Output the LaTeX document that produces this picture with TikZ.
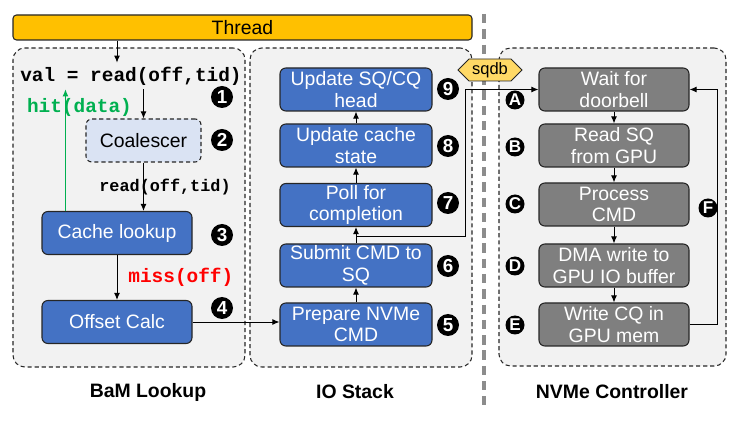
\documentclass[tikz,border=0pt]{standalone}
\usepackage{fontspec}
\setmainfont{Liberation Sans}
\setmonofont{Liberation Mono}
\usetikzlibrary{shapes.geometric, shapes.symbols, arrows.meta, positioning, calc}
\definecolor{threadcolor}{RGB}{255, 192, 0}
\definecolor{panelcolor}{RGB}{242, 242, 242}
\definecolor{stepcolor}{RGB}{68, 114, 196}
\definecolor{ctrlcolor}{RGB}{127, 127, 127}
\definecolor{coalcolor}{RGB}{218, 227, 243}
\definecolor{dbcolor}{RGB}{255, 217, 102}
\definecolor{hitcolor}{RGB}{0, 176, 80}
\definecolor{misscolor}{RGB}{255, 0, 0}
\newdimen\pxu \pxu=0.85pt
\newcommand{\boxfont}{\fontsize{16.5}{18.5}\selectfont}
\newcommand{\titlefont}{\fontsize{16.5}{18}\selectfont\bfseries}
\newcommand{\badgefont}{\fontsize{16}{16}\selectfont\bfseries}
\newcommand{\codefont}{\fontsize{16.5}{18}\selectfont\ttfamily\bfseries}

\begin{document}
\begin{tikzpicture}[
    x=0.85pt, y=-0.85pt,
    panel/.style={draw=black!85, fill=panelcolor, rounded corners=10pt, line width=0.9pt, dash pattern=on 3.5pt off 2.5pt},
    bamstep/.style={draw=black!85, fill=stepcolor, text=white, rounded corners=5pt, line width=0.9pt, minimum width=150\pxu, minimum height=43\pxu, inner ysep=0pt, align=center, font=\boxfont},
    iostep/.style={bamstep, minimum width=152\pxu},
    ctrlstep/.style={bamstep, fill=ctrlcolor},
    badge/.style={circle, fill=black, text=white, inner sep=0pt, minimum size=22\pxu, font=\badgefont},
    title/.style={font=\titlefont},
    code/.style={font=\codefont},
    arr/.style={-{Latex[length=6pt, width=5pt]}, line width=0.8pt}
]
    \useasboundingbox (0,0) rectangle (746,425);

    % Panels
    \node[panel, minimum width=232\pxu, minimum height=319\pxu] (bampanel) at (129,207.5) {};
    \node[panel, minimum width=222\pxu, minimum height=319\pxu] (iopanel) at (361,207.5) {};
    \node[panel, minimum width=227\pxu, minimum height=318\pxu] (nvmepanel) at (612.5,207) {};
    \draw[line width=2.6pt, ctrlcolor!90, dash pattern=on 8pt off 5pt] (484,14) -- (484,405);

    % Thread
    \node[draw=black!85, fill=threadcolor, rounded corners=3pt, line width=0.9pt, minimum width=459\pxu, minimum height=25\pxu, font=\boxfont] (thread) at (242.5,27.5) {Thread};

    % BaM lookup
    \node[code] (val) at (131,76) {val = read(off,tid)};
    \node[draw=black!85, fill=coalcolor, rounded corners=5pt, line width=0.9pt, dash pattern=on 3.5pt off 2.5pt, minimum width=115\pxu, minimum height=43\pxu, font=\boxfont] (coal) at (143.5,140.5) {Coalescer};
    \node[bamstep] (lookup) at (117,233) {Cache lookup};
    \node[bamstep] (offset) at (117,322) {Offset Calc};
    \node[badge] (b1) at (222,97) {1};
    \node[badge] (b2) at (222,140) {2};
    \node[badge] (b3) at (222,235) {3};
    \node[badge] (b4) at (222,308) {4};

    % IO stack
    \node[iostep] (prep) at (356,324.5) {Prepare NVMe\\CMD};
    \node[iostep] (submit) at (356,265.5) {Submit CMD to\\SQ};
    \node[iostep] (poll) at (356,205) {Poll for\\completion};
    \node[iostep] (upcache) at (356,145.5) {Update cache\\state};
    \node[iostep] (uphead) at (356,89.5) {Update SQ/CQ\\head};
    \node[badge] (b5) at (448,325) {5};
    \node[badge] (b6) at (448,266) {6};
    \node[badge] (b7) at (448,203) {7};
    \node[badge] (b8) at (448,146) {8};
    \node[badge] (b9) at (448,89) {9};

    % NVMe controller
    \node[ctrlstep] (wait) at (614,89.5) {Wait for\\doorbell};
    \node[ctrlstep] (readsq) at (614,145.5) {Read SQ\\from GPU};
    \node[ctrlstep] (proc) at (614,204.5) {Process\\CMD};
    \node[ctrlstep] (dma) at (614,265.5) {DMA write to\\GPU IO buffer};
    \node[ctrlstep] (writecq) at (614,324.5) {Write CQ in\\GPU mem};
    \node[badge, minimum size=19\pxu, font=\fontsize{14.5}{14.5}\selectfont\bfseries] (ba) at (515,100) {A};
    \node[badge, minimum size=19\pxu, font=\fontsize{14.5}{14.5}\selectfont\bfseries] (bb) at (515,147) {B};
    \node[badge, minimum size=19\pxu, font=\fontsize{14.5}{14.5}\selectfont\bfseries] (bc) at (515,204) {C};
    \node[badge, minimum size=19\pxu, font=\fontsize{14.5}{14.5}\selectfont\bfseries] (bd) at (515,266) {D};
    \node[badge, minimum size=19\pxu, font=\fontsize{14.5}{14.5}\selectfont\bfseries] (be) at (515,325) {E};
    \node[badge, minimum size=19\pxu, font=\fontsize{14.5}{14.5}\selectfont\bfseries] (bf) at (708,208) {F};

    % Doorbell
    \node[signal, signal to=west and east, draw=black!85, fill=dbcolor, line width=0.8pt, minimum width=64\pxu, minimum height=22\pxu, inner sep=1pt, font=\fontsize{14}{14}\selectfont] (sqdb) at (490,70) {sqdb};

    % Titles
    \node[title] (bamtitle) at (148,392) {BaM Lookup};
    \node[title] (iotitle) at (355,392) {IO Stack};
    \node[title] (nvmetitle) at (612,392) {NVMe Controller};

    % Connections
    \draw[arr] (lookup.center |- thread.south) -- (lookup.center |- val.north);
    \draw[arr] (coal.north |- val.south) -- (coal.north);
    \draw[arr] (coal.south) -- (coal.south |- lookup.north) node[midway, xshift=21.5\pxu, font=\fontsize{14.3}{14.3}\selectfont\ttfamily\bfseries] {read(off,tid)};
    \draw[arr, hitcolor] ([xshift=24\pxu]lookup.north west) -- ([xshift=24\pxu]lookup.north west |- val.south) node[pos=0.85, xshift=14\pxu, code, text=hitcolor] {hit(data)};
    \draw[arr] (lookup.south) -- (offset.north) node[midway, right, code, text=misscolor, xshift=6pt] {miss(off)};
    \draw[arr] (offset.east) -- (offset.east -| prep.west);

    \draw[arr] (prep.north) -- (submit.south);
    \draw[arr] (submit.north) -- (poll.south);
    \draw[arr] (poll.north) -- (upcache.south);
    \draw[arr] (upcache.north) -- (uphead.south);
    \coordinate (split) at ($(submit.north)!0.4!(poll.south)$);
    \draw[arr] (split) -- ++(109,0) |- (wait.west);

    \draw[arr] (wait.south) -- (readsq.north);
    \draw[arr] (readsq.south) -- (proc.north);
    \draw[arr] (proc.south) -- (dma.north);
    \draw[arr] (dma.south) -- (writecq.north);
    \draw[arr] (writecq.east) -- ++(28,0) |- (wait.east);

\end{tikzpicture}
\end{document}
